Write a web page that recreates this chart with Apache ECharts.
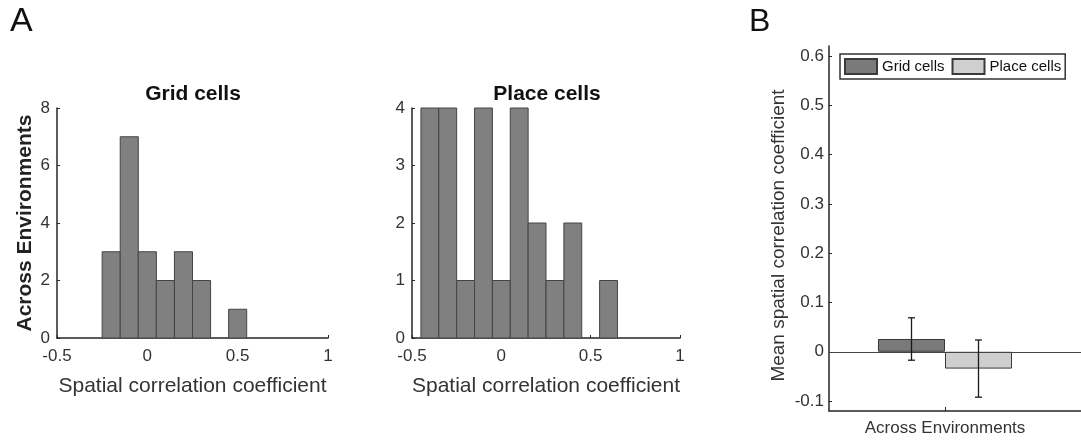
<!DOCTYPE html>
<html>
<head>
<meta charset="utf-8">
<script src="https://cdn.jsdelivr.net/npm/echarts@6/dist/echarts.min.js"></script>
<style>
  html, body { margin: 0; padding: 0; background: #fff; }
  #main { width: 1081px; height: 442px; }
</style>
</head>
<body>
<div id="main"></div>
<script>
// histogram bins (centres) and counts
var binWidth = 0.1;
var gridBinCenters = [-0.2, -0.1, 0, 0.1, 0.2, 0.3, 0.4, 0.5];
var gridCounts = [3, 7, 3, 2, 3, 2, 0, 1];
var placeBinCenters = [-0.4, -0.3, -0.2, -0.1, 0, 0.1, 0.2, 0.3, 0.4, 0.5, 0.6];
var placeCounts = [4, 4, 1, 4, 1, 4, 2, 1, 2, 0, 1];

// panel B: mean spatial correlation, with error
var groups = ['Grid cells', 'Place cells'];
var means = [0.026, -0.034];
var errs = [0.043, 0.058];
var barColors = ['#7a7a7a', '#cfcfcf'];
var xCategory = 'Across Environments';
var bTicks = [-0.1, 0, 0.1, 0.2, 0.3, 0.4, 0.5, 0.6];

var FONT = 'Liberation Sans, Arial, Helvetica, sans-serif';
var AXIS_COLOR = '#262626';
var BAR_W = 67;

function toBins(centers, counts) {
    return centers.map(function (c, i) {
        return [c - binWidth / 2, c + binWidth / 2, counts[i]];
    });
}

function renderHistBar(params, api) {
    if (api.value(2) === 0) return null;
    var p0 = api.coord([api.value(0), api.value(2)]);
    var p1 = api.coord([api.value(1), 0]);
    return {
        type: 'rect',
        shape: { x: p0[0], y: p0[1], width: p1[0] - p0[0], height: p1[1] - p0[1] },
        style: { fill: '#808080', stroke: '#444', lineWidth: 1 }
    };
}

function renderErr(params, api) {
    var idx = api.value(3);
    var top = api.coord([api.value(0), api.value(2)]);
    var bot = api.coord([api.value(0), api.value(1)]);
    var x = top[0] + (idx - 0.5) * BAR_W;
    var cap = 3.5;
    var st = { stroke: '#1a1a1a', lineWidth: 1.3, fill: null };
    return {
        type: 'group',
        children: [
            { type: 'line', shape: { x1: x, y1: top[1], x2: x, y2: bot[1] }, style: st },
            { type: 'line', shape: { x1: x - cap, y1: top[1], x2: x + cap, y2: top[1] }, style: st },
            { type: 'line', shape: { x1: x - cap, y1: bot[1], x2: x + cap, y2: bot[1] }, style: st }
        ]
    };
}

function histX(gridIndex) {
    return {
        type: 'value', gridIndex: gridIndex, min: -0.5, max: 1, interval: 0.5,
        name: 'Spatial correlation coefficient', nameLocation: 'middle', nameGap: 38,
        nameTextStyle: { fontFamily: FONT, fontSize: 21, color: '#333' },
        axisLine: { show: true, onZero: false, lineStyle: { color: AXIS_COLOR, width: 1.5 } },
        axisTick: { show: true, inside: true, length: 3, lineStyle: { color: AXIS_COLOR } },
        axisLabel: { fontFamily: FONT, fontSize: 17, color: '#333', margin: 10 },
        splitLine: { show: false }
    };
}

function histY(gridIndex, max, interval, name) {
    return {
        type: 'value', gridIndex: gridIndex, min: 0, max: max, interval: interval,
        name: name, nameLocation: 'middle', nameGap: 21,
        nameTextStyle: { fontFamily: FONT, fontSize: 21, fontWeight: 'bold', color: '#222' },
        axisLine: { show: true, onZero: false, lineStyle: { color: AXIS_COLOR, width: 1.5 } },
        axisTick: { show: true, inside: true, length: 3, lineStyle: { color: AXIS_COLOR } },
        axisLabel: { fontFamily: FONT, fontSize: 17, color: '#333', margin: 7 },
        splitLine: { show: false }
    };
}

var errData = groups.map(function (g, i) {
    return [1, means[i] - errs[i], means[i] + errs[i], i];
});

var chart = echarts.init(document.getElementById('main'), null, { renderer: 'canvas' });

chart.setOption({
    animation: false,
    backgroundColor: '#fff',
    title: [
        { text: 'A', left: 5, top: 0, textStyle: { fontFamily: FONT, fontSize: 34, fontWeight: 'normal', color: '#111' } },
        { text: 'B', left: 744, top: 1, textStyle: { fontFamily: FONT, fontSize: 32, fontWeight: 'normal', color: '#111' } },
        { text: 'Grid cells', left: 193, top: 84, textAlign: 'center', padding: 0,
          textStyle: { fontFamily: FONT, fontSize: 21, fontWeight: 'bold', color: '#111' } },
        { text: 'Place cells', left: 547, top: 84, textAlign: 'center', padding: 0,
          textStyle: { fontFamily: FONT, fontSize: 21, fontWeight: 'bold', color: '#111' } }
    ],
    legend: {
        data: groups,
        left: 840, top: 54,
        orient: 'horizontal',
        icon: 'rect',
        itemWidth: 32, itemHeight: 15, itemGap: 7,
        padding: [4, 4, 4, 4],
        borderColor: '#333', borderWidth: 1.5,
        textStyle: { fontFamily: FONT, fontSize: 15, color: '#111' }
    },
    grid: [
        { left: 57, top: 108, width: 271, height: 230 },
        { left: 412, top: 108, width: 268, height: 230 },
        { left: 829, top: 46, right: 0, height: 365 }
    ],
    xAxis: [
        histX(0),
        histX(1),
        {
            type: 'value', gridIndex: 2, min: 0, max: 252 / 116,
            axisLine: { show: true, onZero: false, lineStyle: { color: AXIS_COLOR, width: 1.5 } },
            axisTick: { show: true, inside: true, length: 4, customValues: [1], lineStyle: { color: AXIS_COLOR } },
            axisLabel: { show: true, customValues: [1], margin: 9, fontFamily: FONT, fontSize: 17, color: '#333',
                         formatter: function () { return xCategory; } },
            splitLine: { show: false }
        }
    ],
    yAxis: [
        histY(0, 8, 2, 'Across Environments'),
        histY(1, 4, 1, ''),
        {
            type: 'value', gridIndex: 2, min: -0.12, max: 0.62,
            name: 'Mean spatial correlation coefficient', nameLocation: 'middle', nameGap: 41,
            nameTextStyle: { fontFamily: FONT, fontSize: 19, color: '#333', padding: [0, 14, 0, 0] },
            axisLine: { show: true, onZero: false, lineStyle: { color: AXIS_COLOR, width: 1.5 } },
            axisTick: { show: true, inside: true, length: 3, customValues: bTicks, lineStyle: { color: AXIS_COLOR } },
            axisLabel: { fontFamily: FONT, fontSize: 17, color: '#333', margin: 5, customValues: bTicks,
                         formatter: function (v) { return String(Math.round(v * 10) / 10); } },
            splitLine: { show: false }
        }
    ],
    series: [
        { type: 'custom', xAxisIndex: 0, yAxisIndex: 0, renderItem: renderHistBar,
          encode: { x: [0, 1], y: 2 }, data: toBins(gridBinCenters, gridCounts) },
        { type: 'custom', xAxisIndex: 1, yAxisIndex: 1, renderItem: renderHistBar,
          encode: { x: [0, 1], y: 2 }, data: toBins(placeBinCenters, placeCounts) },
        {
            name: groups[0], type: 'bar', xAxisIndex: 2, yAxisIndex: 2,
            barWidth: BAR_W, barGap: '0%',
            itemStyle: { color: barColors[0], borderColor: '#3a3a3a', borderWidth: 1 },
            data: [[1, means[0]]],
            markLine: {
                silent: true, symbol: ['none', 'none'], label: { show: false },
                lineStyle: { color: '#444', width: 1, type: 'solid' },
                data: [{ yAxis: 0 }]
            }
        },
        {
            name: groups[1], type: 'bar', xAxisIndex: 2, yAxisIndex: 2,
            barWidth: BAR_W, barGap: '0%',
            itemStyle: { color: barColors[1], borderColor: '#3a3a3a', borderWidth: 1 },
            data: [[1, means[1]]]
        },
        { type: 'custom', xAxisIndex: 2, yAxisIndex: 2, renderItem: renderErr,
          encode: { x: 0, y: [1, 2] }, data: errData, z: 5 }
    ]
});
</script>
</body>
</html>
